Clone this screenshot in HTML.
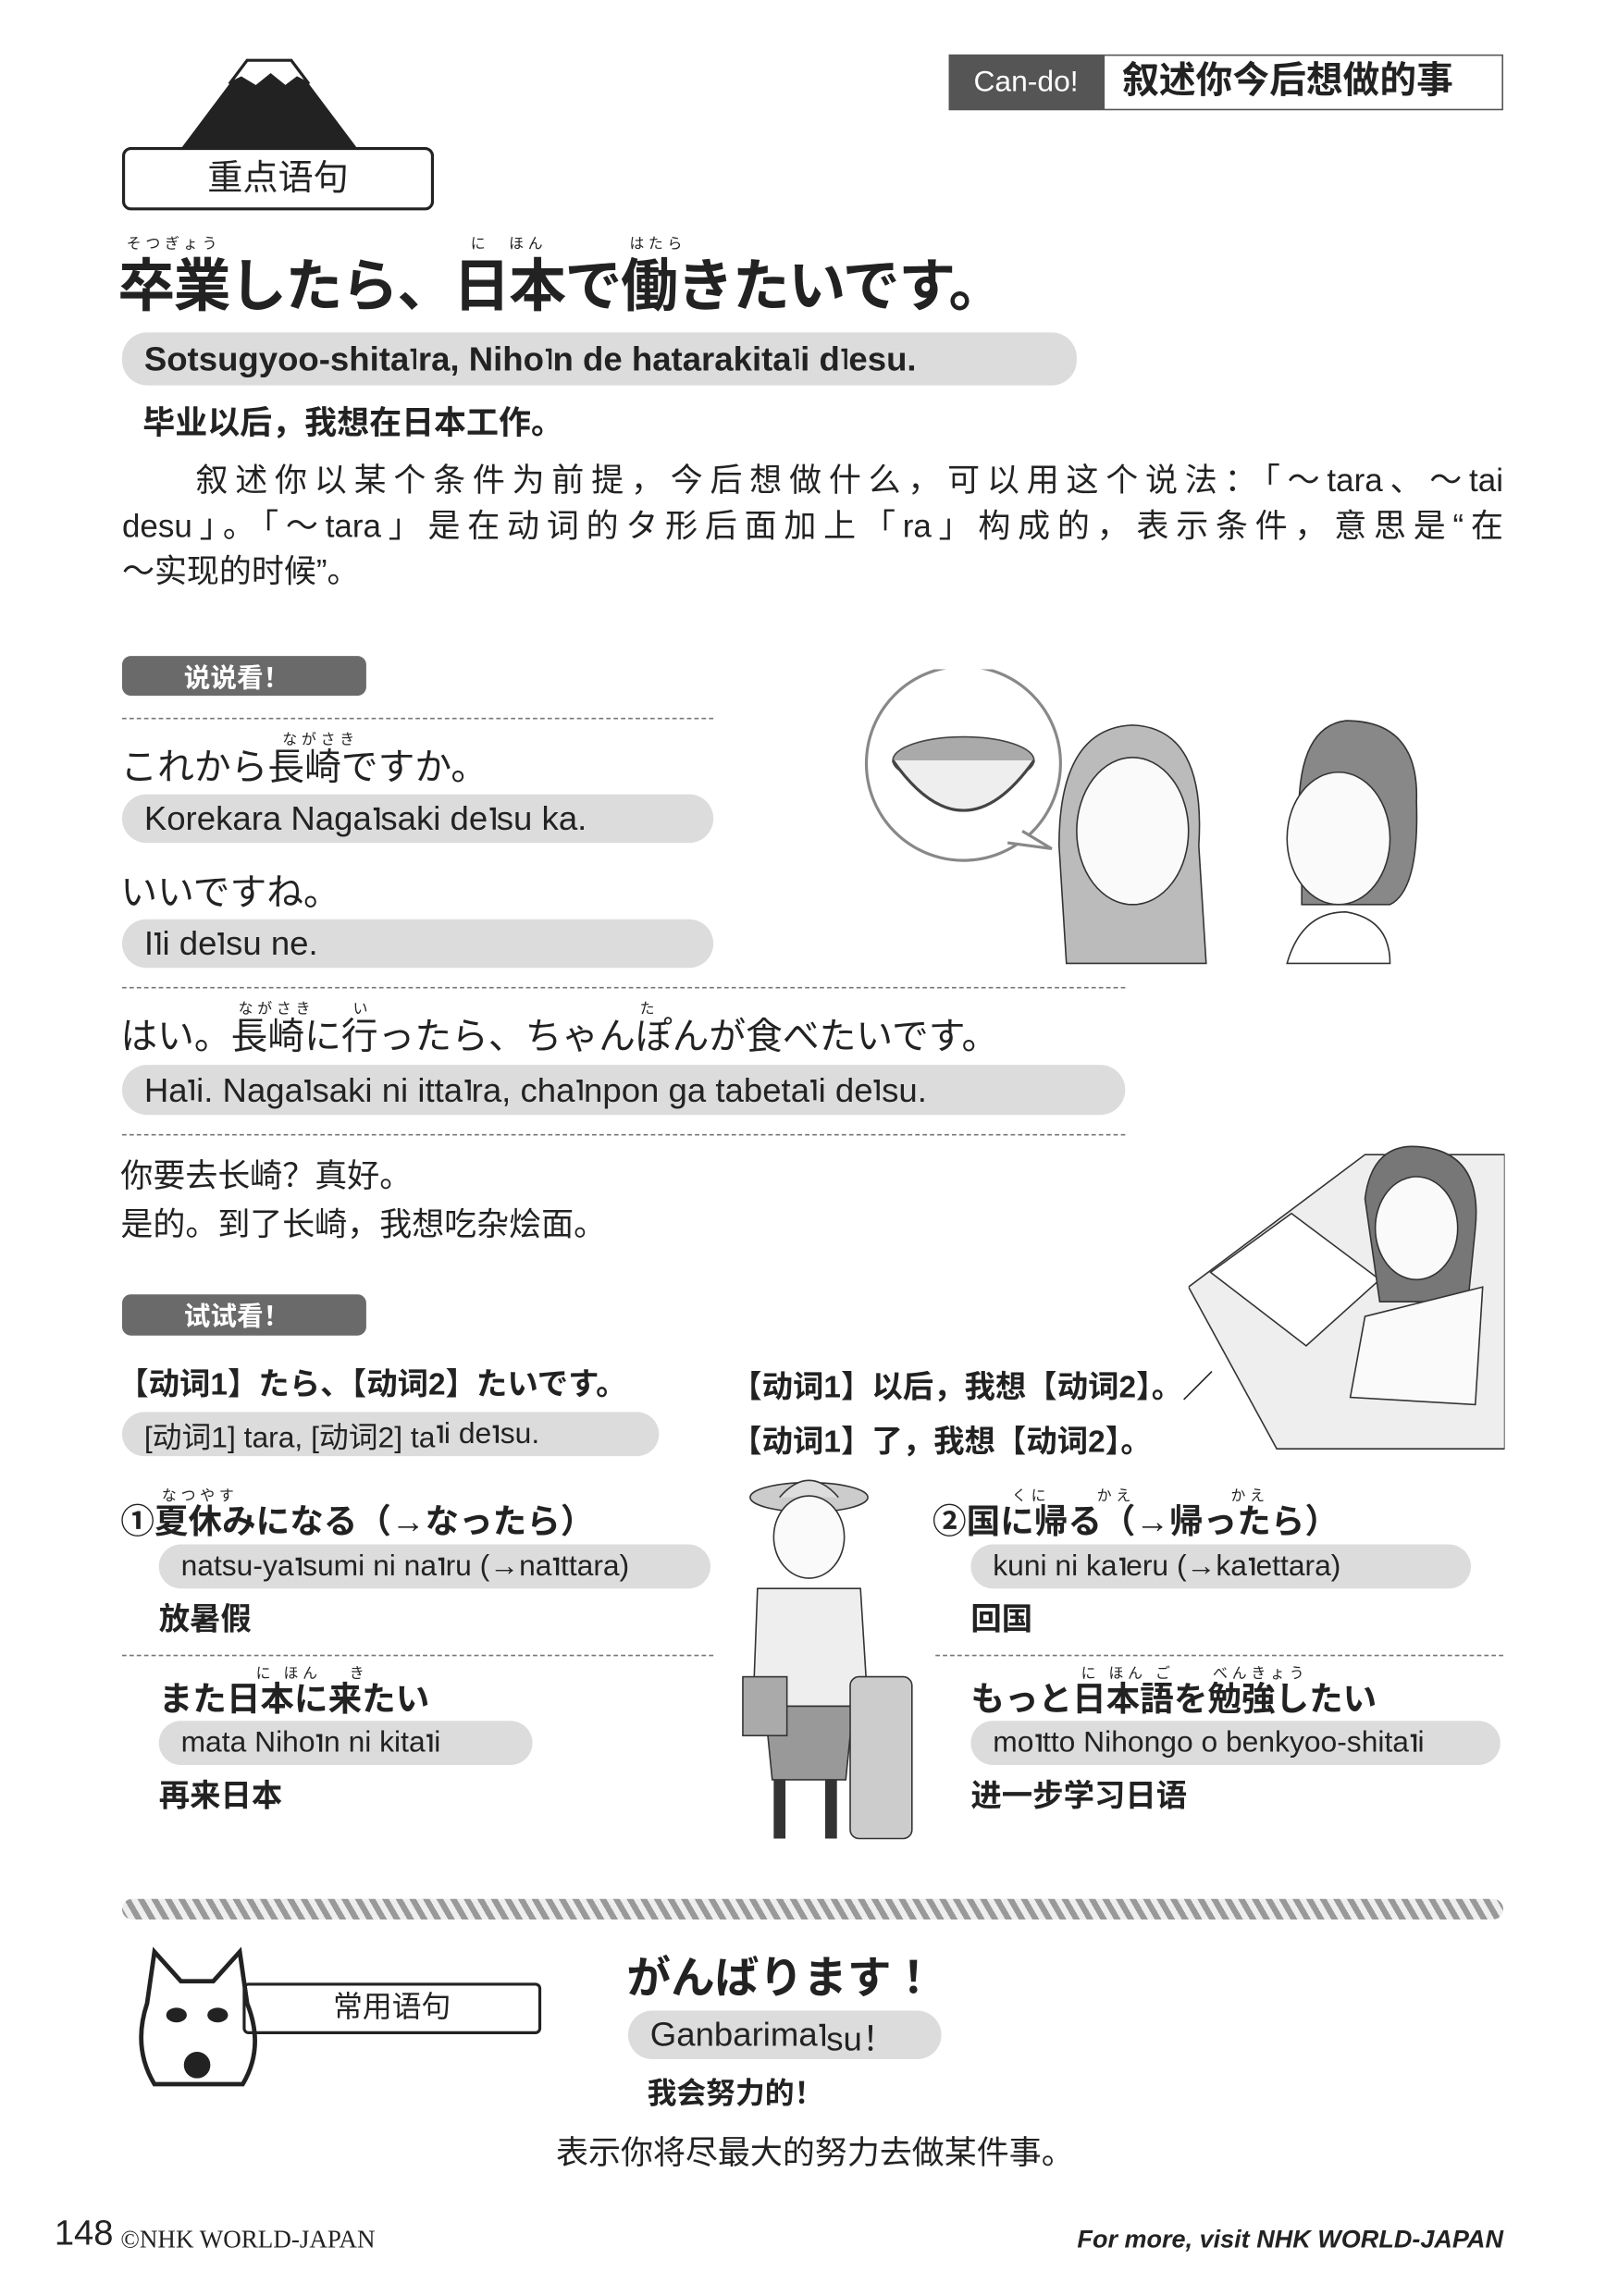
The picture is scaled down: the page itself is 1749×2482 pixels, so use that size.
<!DOCTYPE html>
<html><head><meta charset="utf-8">
<style>
html,body{margin:0;padding:0;background:#fff;}
body{width:1749px;height:2481px;overflow:hidden;position:relative;}
#w{position:absolute;left:0;top:0;width:1100px;height:1561px;transform:scale(1.59);transform-origin:0 0;font-family:"Liberation Sans","Noto Sans CJK SC",sans-serif;color:#222;}
.abs{position:absolute;white-space:nowrap;}
.pill{position:absolute;background:#dcdcdc;border-radius:17px;padding-left:15px;box-sizing:border-box;display:flex;align-items:center;white-space:nowrap;}
.dk{position:absolute;background:#6a6a6a;color:#fff;border-radius:6px;font-size:18px;display:flex;align-items:center;padding-left:42px;box-sizing:border-box;font-weight:bold;}
.dash{position:absolute;border-top:1.5px dashed #777;height:0;}
.a{display:inline-block;width:4px;height:0.62em;border-top:2px solid #222;border-right:2px solid #222;vertical-align:0.35em;margin:0 1px;box-sizing:border-box;}
.fu{position:absolute;font-size:10px;letter-spacing:3px;white-space:nowrap;}
.b{font-weight:bold;}
.jp{font-family:"Liberation Sans","Noto Sans CJK JP",sans-serif;}
.pl{position:absolute;left:83px;width:939px;font-size:22px;height:31px;line-height:31px;text-align:justify;text-align-last:justify;white-space:nowrap;}
</style></head><body>
<div id="w">
<svg class="abs" style="left:118px;top:33px" width="130" height="70">
<path d="M5 68 L50 8 L80 8 L125 68 Z" fill="#222"/>
<path d="M50 8 L80 8 L92 24 L84 20 L76 26 L66 18 L56 26 L46 20 L38 24 Z" fill="#fff" stroke="#222" stroke-width="2"/>
</svg>
<div class="abs" style="left:83px;top:100px;width:212px;height:43px;border:2px solid #222;border-radius:6px;box-sizing:border-box;font-size:24px;text-align:center;line-height:39px;">重点语句</div>
<div class="abs" style="left:645px;top:37px;width:105px;height:38px;background:#555;color:#fff;font-size:20px;line-height:38px;text-align:center;">Can-do!</div>
<div class="abs b" style="left:750px;top:37px;width:272px;height:38px;border:1.5px solid #555;box-sizing:border-box;font-size:25px;line-height:35px;padding-left:12px;">叙述你今后想做的事</div>

<div class="fu jp" style="left:86px;top:157px">そつぎょう</div>
<div class="fu jp" style="left:320px;top:157px">に　ほん</div>
<div class="fu jp" style="left:428px;top:157px">はたら</div>
<div class="abs b jp" style="left:80px;top:164px;font-size:39px;letter-spacing:-1px;">卒業したら、日本で働きたいです。</div>
<div class="pill b" style="left:83px;top:226px;width:649px;height:36px;font-size:23px;">Sotsugyoo-shita<span class="a"></span>ra, Niho<span class="a"></span>n de hatarakita<span class="a"></span>i d<span class="a"></span>esu.</div>
<div class="abs b" style="left:97px;top:270px;font-size:22px;">毕业以后，我想在日本工作。</div>
<div>
<div class="pl" style="top:311px;left:133px;width:889px;">叙述你以某个条件为前提，今后想做什么，可以用这个说法：「～tara、～tai</div>
<div class="pl" style="top:342px;">desu」。「～tara」是在动词的タ形后面加上「ra」构成的，表示条件，意思是“在</div>
<div class="pl" style="top:373px;text-align-last:left;">～实现的时候”。</div>
</div>

<div class="dk" style="left:83px;top:446px;width:166px;height:27px;">说说看！</div>
<div class="dash" style="left:83px;top:488px;width:402px"></div>
<div class="fu jp" style="left:192px;top:494px">ながさき</div>
<div class="abs jp" style="left:82px;top:502px;font-size:25px;">これから長崎ですか。</div>
<div class="pill" style="left:83px;top:540px;width:402px;height:33px;font-size:23px;">Korekara Naga<span class="a"></span>saki de<span class="a"></span>su ka.</div>
<div class="abs jp" style="left:82px;top:587px;font-size:25px;">いいですね。</div>
<div class="pill" style="left:83px;top:625px;width:402px;height:33px;font-size:23px;">I<span class="a"></span>i de<span class="a"></span>su ne.</div>
<div class="dash" style="left:83px;top:671px;width:682px"></div>
<div class="fu jp" style="left:162px;top:677px">ながさき　　い　　　　　　　　　　　　　　た</div>
<div class="abs jp" style="left:82px;top:685px;font-size:25px;">はい。長崎に行ったら、ちゃんぽんが食べたいです。</div>
<div class="pill" style="left:83px;top:724px;width:682px;height:34px;font-size:23px;">Ha<span class="a"></span>i. Naga<span class="a"></span>saki ni itta<span class="a"></span>ra, cha<span class="a"></span>npon ga tabeta<span class="a"></span>i de<span class="a"></span>su.</div>
<div class="dash" style="left:83px;top:771px;width:682px"></div>
<div class="abs" style="left:82px;top:783px;font-size:22px;line-height:33px;">你要去长崎？真好。<br>是的。到了长崎，我想吃杂烩面。</div>

<svg class="abs" style="left:585px;top:455px" width="390" height="205">
<circle cx="70" cy="64" r="66" fill="#fff" stroke="#888" stroke-width="2"/>
<path d="M110 110 L130 122 L100 118" fill="#fff" stroke="#888" stroke-width="2"/>
<ellipse cx="70" cy="62" rx="48" ry="16" fill="#aaa" stroke="#444"/>
<path d="M22 62 Q70 130 118 62" fill="#eee" stroke="#444" stroke-width="2"/>
<path d="M135 120 Q135 40 185 38 Q235 40 230 120 L235 200 L140 200 Z" fill="#bbb" stroke="#333"/>
<ellipse cx="185" cy="110" rx="38" ry="50" fill="#fafafa" stroke="#333"/>
<path d="M300 130 Q290 40 330 35 Q380 35 378 90 Q380 150 360 160 L300 160 Z" fill="#888" stroke="#333"/>
<ellipse cx="325" cy="115" rx="35" ry="45" fill="#fafafa" stroke="#333"/>
<path d="M290 200 Q300 165 330 165 Q360 170 360 200 Z" fill="#fff" stroke="#333"/>
</svg>

<div class="dk" style="left:83px;top:880px;width:166px;height:28px;">试试看！</div>
<div class="abs b jp" style="left:80px;top:925px;font-size:21px;">【动词1】たら、【动词2】たいです。</div>
<div class="pill" style="left:83px;top:960px;width:365px;height:30px;font-size:20px;">[动词1] tara, [动词2] ta<span class="a"></span>i de<span class="a"></span>su.</div>
<div class="abs b" style="left:497px;top:925px;font-size:21px;line-height:37px;">【动词1】以后，我想【动词2】。／<br>【动词1】了，我想【动词2】。</div>
<svg class="abs" style="left:808px;top:775px" width="215" height="212">
<path d="M0 100 L120 10 L215 10 L215 210 L60 210 Z" fill="#eee" stroke="#333"/>
<path d="M15 90 L70 50 L130 95 L80 140 Z" fill="#fff" stroke="#333"/>
<path d="M120 40 Q125 0 160 5 Q200 10 195 60 L190 110 L130 110 Z" fill="#777" stroke="#333"/>
<ellipse cx="155" cy="60" rx="28" ry="35" fill="#fafafa" stroke="#333"/>
<path d="M120 120 L200 100 L195 180 L110 175 Z" fill="#fafafa" stroke="#333"/>
</svg>

<div class="fu jp" style="left:110px;top:1008px">なつやす</div>
<div class="abs b jp" style="left:82px;top:1015px;font-size:23px;">①夏休みになる（→なったら）</div>
<div class="pill" style="left:108px;top:1050px;width:375px;height:30px;font-size:20px;">natsu-ya<span class="a"></span>sumi ni na<span class="a"></span>ru (→na<span class="a"></span>ttara)</div>
<div class="abs b" style="left:108px;top:1085px;font-size:21px;">放暑假</div>
<div class="dash" style="left:83px;top:1125px;width:402px"></div>
<div class="fu jp" style="left:174px;top:1129px">に ほん　 き</div>
<div class="abs b jp" style="left:108px;top:1136px;font-size:23px;">また日本に来たい</div>
<div class="pill" style="left:108px;top:1170px;width:254px;height:30px;font-size:20px;">mata Niho<span class="a"></span>n ni kita<span class="a"></span>i</div>
<div class="abs b" style="left:108px;top:1205px;font-size:21px;">再来日本</div>

<svg class="abs" style="left:500px;top:1000px" width="125" height="258">
<ellipse cx="50" cy="18" rx="40" ry="10" fill="#ccc" stroke="#333"/>
<path d="M30 18 Q50 -5 70 18" fill="#ddd" stroke="#333"/>
<ellipse cx="50" cy="45" rx="24" ry="28" fill="#fafafa" stroke="#333"/>
<path d="M15 80 L85 80 L90 160 L12 160 Z" fill="#eee" stroke="#333"/>
<path d="M20 160 L80 160 L75 210 L25 210 Z" fill="#999" stroke="#333"/>
<rect x="78" y="140" width="42" height="110" rx="6" fill="#ccc" stroke="#333"/>
<rect x="5" y="140" width="30" height="40" fill="#aaa" stroke="#333"/>
<path d="M30 210 L30 250 M65 210 L65 250" stroke="#333" stroke-width="8"/>
</svg>

<div class="fu jp" style="left:688px;top:1008px">くに　　 かえ　　　　　かえ</div>
<div class="abs b jp" style="left:634px;top:1015px;font-size:23px;">②国に帰る（→帰ったら）</div>
<div class="pill" style="left:660px;top:1050px;width:340px;height:30px;font-size:20px;">kuni ni ka<span class="a"></span>eru (→ka<span class="a"></span>ettara)</div>
<div class="abs b" style="left:660px;top:1085px;font-size:21px;">回国</div>
<div class="dash" style="left:636px;top:1125px;width:386px"></div>
<div class="fu jp" style="left:735px;top:1129px">に ほん ご　　べんきょう</div>
<div class="abs b jp" style="left:660px;top:1136px;font-size:23px;">もっと日本語を勉強したい</div>
<div class="pill" style="left:660px;top:1170px;width:360px;height:30px;font-size:20px;">mo<span class="a"></span>tto Nihongo o benkyoo-shita<span class="a"></span>i</div>
<div class="abs b" style="left:660px;top:1205px;font-size:21px;">进一步学习日语</div>

<div class="abs" style="left:83px;top:1291px;width:939px;height:14px;border-radius:7px;background:repeating-linear-gradient(60deg,#999 0 4px,#eee 4px 8px);"></div>

<svg class="abs" style="left:85px;top:1322px" width="98" height="100">
<path d="M15 40 L20 5 L38 25 L60 25 L78 5 L83 40 Q95 70 80 95 L20 95 Q5 70 15 40 Z" fill="#fff" stroke="#222" stroke-width="3"/>
<ellipse cx="35" cy="48" rx="7" ry="5" fill="#222"/><ellipse cx="63" cy="48" rx="7" ry="5" fill="#222"/>
<circle cx="49" cy="82" r="9" fill="#222"/>
</svg>
<div class="abs" style="left:165px;top:1348px;width:203px;height:35px;border:2px solid #222;border-radius:4px;box-sizing:border-box;font-size:20px;text-align:center;line-height:31px;">常用语句</div>
<div class="abs b jp" style="left:426px;top:1320px;font-size:30px;">がんばります！</div>
<div class="pill" style="left:427px;top:1367px;width:213px;height:33px;font-size:23px;">Ganbarima<span class="a"></span>su！</div>
<div class="abs b" style="left:440px;top:1407px;font-size:20px;">我会努力的！</div>
<div class="abs" style="left:378px;top:1446px;font-size:22px;">表示你将尽最大的努力去做某件事。</div>

<div class="abs" style="left:37px;top:1505px;font-size:24px;">148</div>
<div class="abs" style="left:82px;top:1513px;font-size:17px;font-family:'Liberation Serif',serif;">©NHK WORLD-JAPAN</div>
<div class="abs b" style="right:78px;top:1513px;font-size:17px;font-style:italic;">For more, visit NHK WORLD-JAPAN</div>
</div>
</body></html>
